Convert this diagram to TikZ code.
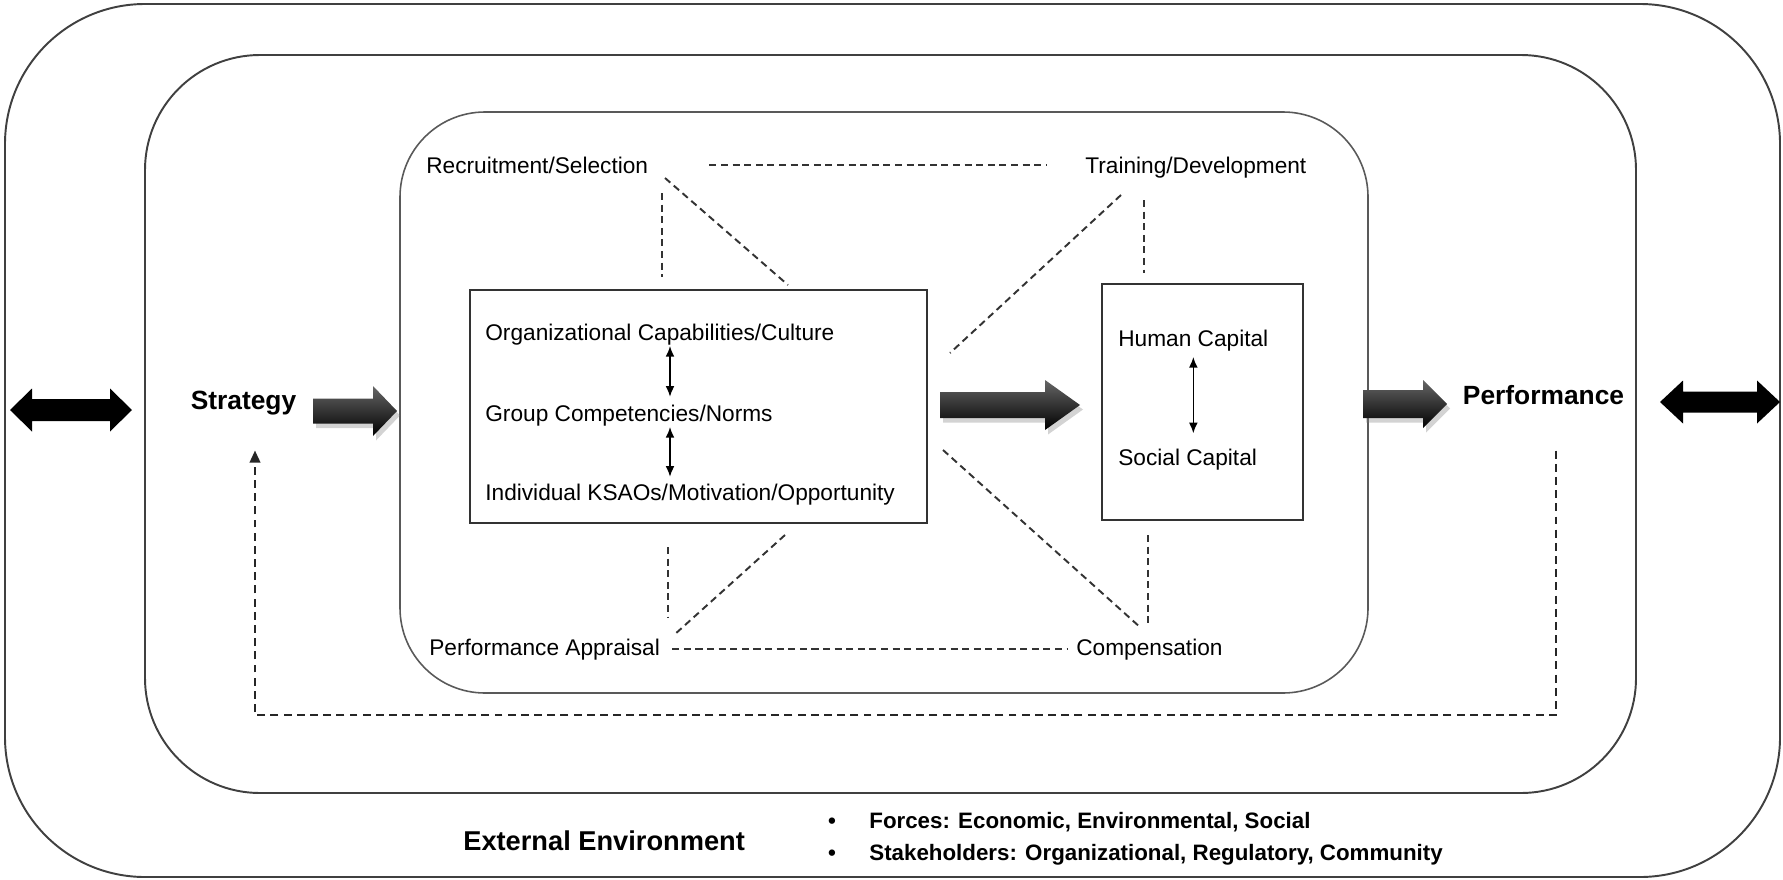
\documentclass[tikz,border=0pt]{standalone}
\usepackage{fontspec}
\setmainfont{Liberation Sans}
\usetikzlibrary{arrows.meta,shadows}

% block arrow: style, tail x, tip x, y, half shaft, half head, head length
\newcommand{\flowarrow}[7]{%
    \path[#1] (#2,#4-#5) -- (#3-#7,#4-#5) -- (#3-#7,#4-#6) -- (#3,#4)
        -- (#3-#7,#4+#6) -- (#3-#7,#4+#5) -- (#2,#4+#5) -- cycle;}
% two-headed block arrow: left x, right x, y, half shaft, half head, head length
\newcommand{\swaparrow}[6]{%
    \fill[black] (#1,#3) -- (#1+#6,#3-#5) -- (#1+#6,#3-#4) -- (#2-#6,#3-#4)
        -- (#2-#6,#3-#5) -- (#2,#3) -- (#2-#6,#3+#5) -- (#2-#6,#3+#4)
        -- (#1+#6,#3+#4) -- (#1+#6,#3+#5) -- cycle;}

\begin{document}
\begin{tikzpicture}[
    x=2cm,y=-2cm,
    every node/.style={font=\fontsize{12.9}{15}\selectfont},
    frame/.style={draw=black!75,line width=1.1pt},
    panel/.style={draw=black!80,line width=1.1pt,inner sep=0pt,outer sep=0pt},
    hrtext/.style={inner sep=0pt,anchor=base west},
    heading/.style={font=\fontsize{15}{18}\selectfont\bfseries,inner sep=0pt,anchor=base},
    hrlink/.style={black!80,line width=1.1pt,dash pattern=on 4pt off 2.6pt},
    feedback/.style={black!85,line width=1.4pt,dash pattern=on 4.5pt off 3pt,
        -{Triangle[length=7pt,width=6pt]}},
    twohead/.style={<->,>={Latex[length=6pt,width=5pt]},line width=0.8pt},
    shadedarrow/.style={top color=black!60,bottom color=black,
        drop shadow={opacity=0.35,shadow xshift=0.6mm,shadow yshift=-0.9mm}}
]
    % picture is 17.83 x 8.79 units
    \useasboundingbox (0,0) rectangle (17.83,8.79);

    % nested environments
    \draw[frame,rounded corners=2.8cm] (0.05,0.04) rectangle (17.80,8.77);
    \draw[frame,rounded corners=2.3cm] (1.45,0.55) rectangle (16.36,7.93);
    \draw[frame,draw=black!65,line width=0.9pt,rounded corners=1.7cm] (4.00,1.12) rectangle (13.68,6.93);

    % levels box
    \node[panel,minimum width=9.14cm,minimum height=4.66cm] (core) at (6.985,4.065) {};
    \node[hrtext] (org) at (4.85,3.40) {Organizational Capabilities/Culture};
    \node[hrtext] (grp) at (4.85,4.21) {Group Competencies/Norms};
    \node[hrtext] (ind) at (4.85,5.00) {Individual KSAOs/Motivation/Opportunity};
    \coordinate (spine) at (6.70,0);
    \draw[twohead,shorten <=0.02cm,shorten >=0.15cm] (org.south -| spine) -- (grp.north -| spine);
    \draw[twohead,shorten <=0.02cm,shorten >=0.13cm] (grp.south -| spine) -- (ind.north -| spine);

    % capital box
    \node[panel,minimum width=4.02cm,minimum height=4.72cm] (capital) at (12.025,4.02) {};
    \node[hrtext] (hum) at (11.18,3.46) {Human Capital};
    \node[hrtext] (soc) at (11.18,4.65) {Social Capital};
    \draw[twohead,shorten <=0.12cm,shorten >=0.3cm] (hum.south) -- (soc.north -| hum.south);

    % HR practices
    \node[hrtext] (rec) at (4.26,1.73) {Recruitment/Selection};
    \node[hrtext] (trn) at (10.85,1.73) {Training/Development};
    \node[hrtext] (apr) at (4.29,6.55) {Performance Appraisal};
    \node[hrtext] (cmp) at (10.76,6.55) {Compensation};

    \draw[hrlink,shorten <=1.22cm,shorten >=0.76cm] (rec.east) -- (rec.east -| trn.west);
    \draw[hrlink,shorten <=0.24cm,shorten >=0.16cm] (apr.east) -- (apr.east -| cmp.west);
    \foreach \xa/\ya/\xb/\yb in {
        6.62/1.93/6.62/2.77,
        6.65/1.78/7.88/2.85,
        11.21/1.95/9.50/3.53,
        11.44/2.00/11.44/2.73,
        6.68/5.47/6.68/6.17,
        7.85/5.35/6.74/6.35,
        9.43/4.50/11.41/6.28,
        11.48/5.35/11.48/6.23
    }{
        \draw[hrlink] (\xa,\ya) -- (\xb,\yb);
    }

    % strategy -> ... -> performance
    \node[heading] (strat) at (2.435,4.095) {Strategy};
    \node[heading] (perf) at (15.435,4.045) {Performance};
    \flowarrow{shadedarrow}{3.13}{3.97}{4.11}{0.125}{0.25}{0.24}
    \flowarrow{shadedarrow}{9.40}{10.80}{4.05}{0.13}{0.25}{0.35}
    \flowarrow{shadedarrow}{13.63}{14.47}{4.04}{0.14}{0.24}{0.24}

    % exchange with the external environment
    \swaparrow{0.10}{1.32}{4.10}{0.11}{0.215}{0.22}
    \swaparrow{16.60}{17.80}{4.02}{0.105}{0.215}{0.23}

    % feedback loop
    \coordinate (loopR) at (15.56,7.15);
    \coordinate (loopL) at (2.55,7.15);
    \draw[feedback,shorten <=0.91cm,shorten >=0.7cm]
        (perf.south -| loopR) -- (loopR) -- (loopL) -- (strat.south -| loopL);

    % external environment
    \node[hrtext,font=\fontsize{15.5}{18}\selectfont\bfseries] (ext) at (4.63,8.50) {External Environment};
    \node[anchor=base,inner sep=0pt,font=\fontsize{12.7}{15}\selectfont\bfseries] (b1) at (8.32,8.28) {\textbullet};
    \node[anchor=base,inner sep=0pt,font=\fontsize{12.7}{15}\selectfont\bfseries] (b2) at (8.32,8.60) {\textbullet};
    \node[hrtext,font=\fontsize{12.7}{15}\selectfont\bfseries] (forces) at (8.69,8.28) {Forces: Economic, Environmental, Social};
    \node[hrtext,font=\fontsize{12.7}{15}\selectfont\bfseries] (stake) at (8.69,8.60) {Stakeholders: Organizational, Regulatory, Community};

\end{tikzpicture}
\end{document}
